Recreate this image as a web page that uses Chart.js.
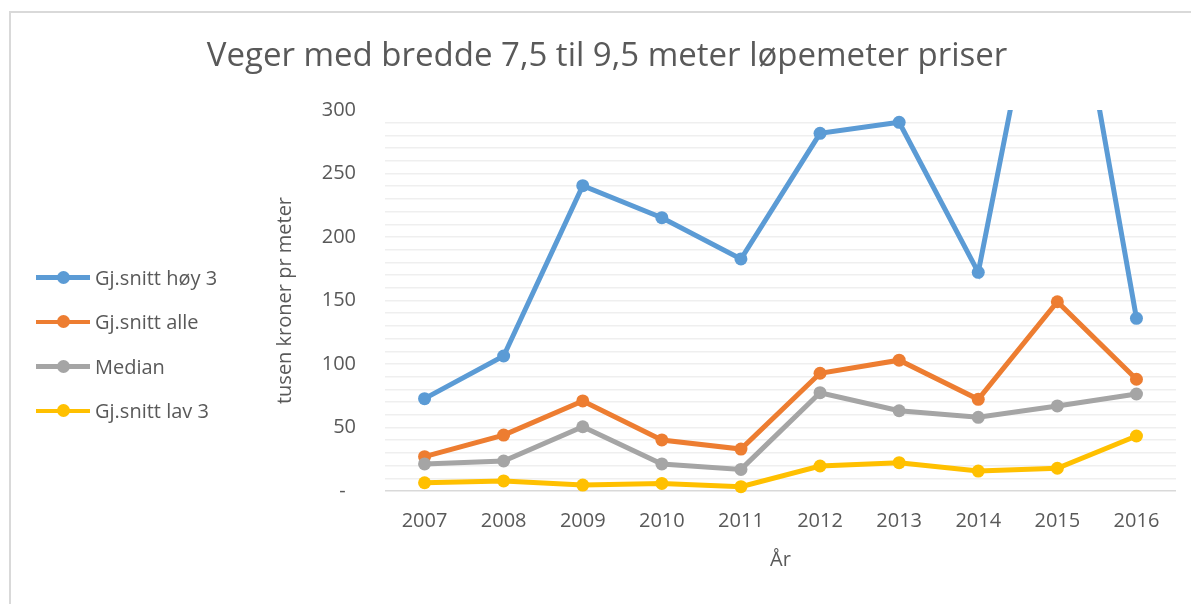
<!DOCTYPE html>
<html>
<head>
<meta charset="utf-8">
<script src="https://cdn.jsdelivr.net/npm/chart.js@4"></script>
<style>
    body { margin: 0; background: #fff; overflow: hidden; width: 1191px; height: 604px; }
    #frame { position: absolute; left: 9px; top: 11px; width: 1196px; height: 600px;
             border-left: 2px solid #d9d9d9; border-top: 2px solid #d9d9d9; }
    #chart { position: absolute; left: -2px; top: -2px; }
    #legend { position: absolute; left: 36px; top: 255px; font-family: 'Open Sans', sans-serif;
              font-size: 20px; color: #595959; }
    .legend-item { display: flex; align-items: center; height: 44.5px; }
    .legend-mark { position: relative; width: 54px; height: 4.5px; margin-right: 5px; }
    .legend-mark span { position: absolute; left: 21px; top: -4.5px; width: 13px; height: 13px; border-radius: 50%; }
</style>
</head>
<body>
<div id="frame"><canvas id="chart" width="1196" height="593"></canvas></div>
<div id="legend"></div>
<script>
// --- Data ---
const years = ['2007', '2008', '2009', '2010', '2011', '2012', '2013', '2014', '2015', '2016'];
const seriesNames = ['Gj.snitt høy 3', 'Gj.snitt alle', 'Median', 'Gj.snitt lav 3'];
const hoy3 = [72.7, 106.3, 240.4, 215.2, 182.7, 281.6, 290.3, 172.2, 488, 136];
const alle = [27, 44, 70.9, 40.2, 33, 92.7, 103, 72.2, 149, 88];
const median = [21.3, 23.6, 50.6, 21.3, 17, 77.4, 63.2, 58, 67, 76.4];
const lav3 = [6.5, 7.9, 4.7, 6, 3.4, 19.7, 22.3, 15.7, 17.9, 43.3];
const colors = ['#5b9bd5', '#ed7d31', '#a5a5a5', '#ffc000'];
const chartTitle = 'Veger med bredde 7,5 til 9,5 meter løpemeter priser';

const textColor = '#595959';
const fontFamily = "'Open Sans', sans-serif";

function makeDataset(label, data, color, order) {
    return {
        label: label,
        data: data,
        borderColor: color,
        backgroundColor: color,
        borderWidth: 5,
        pointRadius: 6.5,
        pointBorderWidth: 0,
        pointBackgroundColor: color,
        tension: 0,
        order: order,
        clip: { top: 0, left: 10, right: 10, bottom: 10 }
    };
}

// title centred on the whole chart frame, not on the padded layout box
const centredTitle = {
    id: 'centredTitle',
    afterDraw(chart) {
        const c = chart.ctx;
        c.save();
        c.font = `normal 33px ${fontFamily}`;
        c.fillStyle = textColor;
        c.textAlign = 'center';
        c.textBaseline = 'middle';
        c.fillText(chartTitle, chart.width / 2, 46);
        c.restore();
    }
};

const ctx = document.getElementById('chart').getContext('2d');
const chart = new Chart(ctx, {
    type: 'line',
    data: {
        labels: years,
        datasets: [
            makeDataset(seriesNames[0], hoy3, colors[0], 3),
            makeDataset(seriesNames[1], alle, colors[1], 2),
            makeDataset(seriesNames[2], median, colors[2], 1),
            makeDataset(seriesNames[3], lav3, colors[3], 0)
        ]
    },
    plugins: [centredTitle],
    options: {
        responsive: false,
        animation: false,
        devicePixelRatio: 1,
        layout: { padding: { top: 99, left: 260, right: 29, bottom: 28 } },
        plugins: {
            legend: { display: false },
            tooltip: { enabled: false },
            title: { display: false }
        },
        scales: {
            x: {
                offset: true,
                grid: { display: false, drawTicks: false },
                border: { display: false },
                ticks: { color: textColor, font: { family: fontFamily, size: 20 }, padding: 18, maxRotation: 0 },
                title: { display: true, text: 'År', color: textColor, font: { family: fontFamily, size: 20 } },
                afterFit: s => { s.height = 85; }
            },
            y: {
                min: 0,
                max: 300,
                grid: {
                    drawTicks: false,
                    lineWidth: 1.5,
                    color: c => c.tick.value === 0 ? '#d9d9d9' : (c.tick.value === 300 ? 'rgba(0,0,0,0)' : '#efefef')
                },
                border: { display: false },
                ticks: {
                    stepSize: 10,
                    autoSkip: false,
                    padding: 29,
                    color: textColor,
                    font: { family: fontFamily, size: 20 },
                    callback: v => v === 0 ? '-  ' : (v % 50 === 0 ? String(v) : '')
                },
                title: { display: true, text: 'tusen kroner pr meter', color: textColor, font: { family: fontFamily, size: 20 } },
                afterFit: s => { s.width = 116; }
            }
        }
    }
});

// --- Legend (left side, line with marker) ---
const legend = document.getElementById('legend');
seriesNames.forEach((name, i) => {
    const item = document.createElement('div');
    item.className = 'legend-item';
    item.innerHTML = `<div class="legend-mark" style="background:${colors[i]}"><span style="background:${colors[i]}"></span></div><div>${name}</div>`;
    legend.appendChild(item);
});
</script>
</body>
</html>
